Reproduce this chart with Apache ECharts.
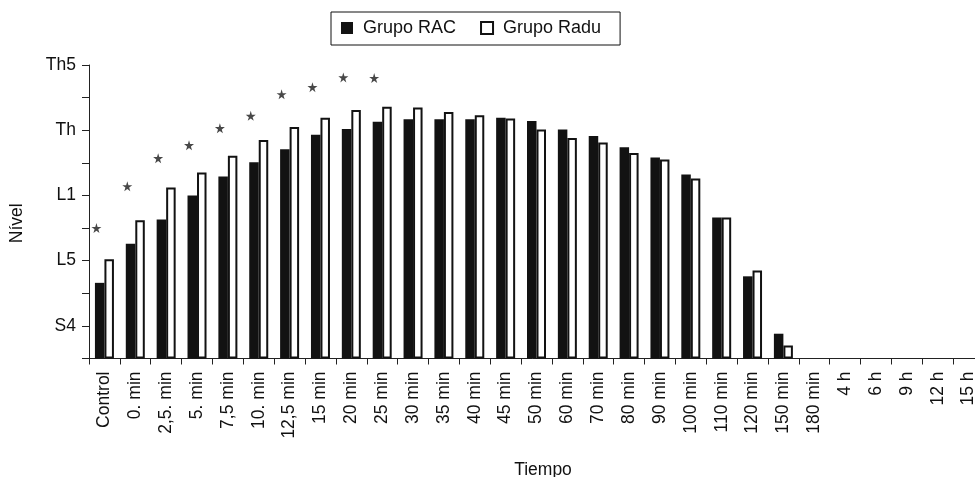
<!DOCTYPE html>
<html>
<head>
<meta charset="utf-8">
<script src="https://cdn.jsdelivr.net/npm/echarts@6/dist/echarts.min.js"></script>
<style>
html,body{margin:0;padding:0;background:#fff;}
#chart{width:975px;height:477px;}
</style>
</head>
<body>
<div id="chart"></div>
<script>
var categories = ['Control','0. min','2,5. min','5. min','7,5 min','10. min','12,5 min','15 min','20 min','25 min','30 min','35 min','40 min','45 min','50 min','60 min','70 min','80 min','90 min','100 min','110 min','120 min','150 min','180 min','4 h','6 h','9 h','12 h','15 h'];
var grupoRAC = [1.16,1.76,2.13,2.50,2.79,3.01,3.21,3.43,3.52,3.63,3.67,3.67,3.67,3.69,3.64,3.51,3.41,3.24,3.08,2.82,2.16,1.26,0.38,null,null,null,null,null,null];
var grupoRadu = [1.52,2.12,2.62,2.85,3.11,3.35,3.55,3.69,3.81,3.86,3.85,3.78,3.73,3.68,3.51,3.38,3.31,3.15,3.05,2.76,2.16,1.35,0.20,null,null,null,null,null,null];
var significance = [2.00,2.64,3.07,3.27,3.53,3.72,4.05,4.16,4.31,4.30,null,null,null,null,null,null,null,null,null,null,null,null,null,null,null,null,null,null,null];
var yLevelValues = [0.5,1.5,2.5,3.5,4.5];
var yLevelNames = ['S4','L5','L1','Th','Th5'];

var FONT = '"Liberation Sans", Arial, Helvetica, sans-serif';
var chart = echarts.init(document.getElementById('chart'));
var starPath = 'path://M50,0 L61,35 L98,35 L68,57 L79,91 L50,70 L21,91 L32,57 L2,35 L39,35 Z';

chart.setOption({
  animation: false,
  backgroundColor: '#fff',
  textStyle: { fontFamily: FONT, color: '#111' },
  legend: {
    data: ['Grupo RAC','Grupo Radu'],
    left: 331, top: 12,
    padding: [7, 19, 8, 10],
    borderColor: '#111', borderWidth: 1,
    itemWidth: 12, itemHeight: 12, itemGap: 24,
    icon: 'rect',
    textStyle: { fontFamily: FONT, fontSize: 18, color: '#111', padding: [0,0,0,5] }
  },
  grid: { left: 89, right: -9, top: 65, bottom: 118.5, containLabel: false, outerBoundsMode: 'none' },
  xAxis: {
    type: 'category',
    data: categories,
    name: 'Tiempo',
    nameLocation: 'middle',
    nameGap: 103,
    nameTextStyle: { fontFamily: FONT, fontSize: 17.5, color: '#111', padding: [0,0,0,13] },
    axisLine: { lineStyle: { color: '#222', width: 1 } },
    axisTick: { show: true, length: 6, alignWithLabel: false, lineStyle: { color: '#222' } },
    axisLabel: { rotate: 90, interval: 0, margin: 13, fontFamily: FONT, fontSize: 17.5, color: '#111' }
  },
  yAxis: {
    type: 'value',
    min: 0, max: 4.5, interval: 0.5,
    name: 'Nível',
    nameLocation: 'middle',
    nameGap: 63,
    nameRotate: 90,
    nameTextStyle: { fontFamily: FONT, fontSize: 17.5, color: '#111', padding: [0,23,0,0] },
    axisLine: { show: true, lineStyle: { color: '#222', width: 1 } },
    axisTick: { show: true, length: 7, lineStyle: { color: '#222' } },
    splitLine: { show: false },
    axisLabel: {
      margin: 13, fontFamily: FONT, fontSize: 17.5, color: '#111',
      formatter: function (v) {
        for (var i = 0; i < yLevelValues.length; i++) {
          if (Math.abs(v - yLevelValues[i]) < 1e-6) return yLevelNames[i];
        }
        return '';
      }
    }
  },
  series: [
    {
      name: 'Grupo RAC', type: 'bar', data: grupoRAC,
      barWidth: 9.5, barGap: '0%',
      itemStyle: { color: '#121212', borderColor: '#121212', borderWidth: 0 }
    },
    {
      name: 'Grupo Radu', type: 'bar', data: grupoRadu,
      barWidth: 9.5,
      itemStyle: { color: '#ffffff', borderColor: '#121212', borderWidth: 2 }
    },
    {
      name: 'sig', type: 'scatter', data: significance,
      symbol: starPath, symbolSize: 10, symbolOffset: [-8, 0],
      itemStyle: { color: '#1a1a1a' },
      silent: true
    }
  ]
});
</script>
</body>
</html>
